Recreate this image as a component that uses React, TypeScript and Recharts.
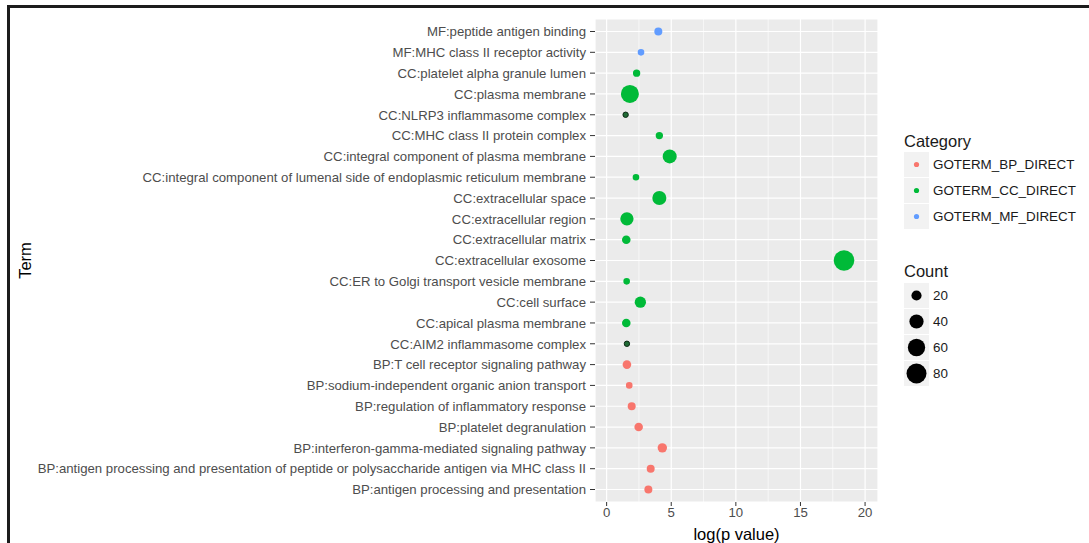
import React from 'react';
import {
  ScatterChart,
  Scatter,
  XAxis,
  YAxis,
  ZAxis,
  CartesianGrid,
  ReferenceLine,
  Label,
  Cell,
} from 'recharts';

// terms, top to bottom as they appear on the y axis
const terms = [
  'MF:peptide antigen binding',
  'MF:MHC class II receptor activity',
  'CC:platelet alpha granule lumen',
  'CC:plasma membrane',
  'CC:NLRP3 inflammasome complex',
  'CC:MHC class II protein complex',
  'CC:integral component of plasma membrane',
  'CC:integral component of lumenal side of endoplasmic reticulum membrane',
  'CC:extracellular space',
  'CC:extracellular region',
  'CC:extracellular matrix',
  'CC:extracellular exosome',
  'CC:ER to Golgi transport vesicle membrane',
  'CC:cell surface',
  'CC:apical plasma membrane',
  'CC:AIM2 inflammasome complex',
  'BP:T cell receptor signaling pathway',
  'BP:sodium-independent organic anion transport',
  'BP:regulation of inflammatory response',
  'BP:platelet degranulation',
  'BP:interferon-gamma-mediated signaling pathway',
  'BP:antigen processing and presentation of peptide or polysaccharide antigen via MHC class II',
  'BP:antigen processing and presentation',
];

const logP = [
  4.0, 2.66, 2.32, 1.8, 1.47, 4.08, 4.88, 2.27, 4.08, 1.57, 1.52, 18.37,
  1.55, 2.61, 1.52, 1.57, 1.57, 1.75, 1.94, 2.48, 4.31, 3.41, 3.23,
];

const counts = [
  12, 8, 10, 65, 5, 10, 39, 8, 39, 35, 14, 85,
  8, 25, 14, 5, 14, 8, 12, 14, 17, 12, 12,
];

const categories = [
  { key: 'BP', name: 'GOTERM_BP_DIRECT', color: '#F8766D' },
  { key: 'CC', name: 'GOTERM_CC_DIRECT', color: '#00BA38' },
  { key: 'MF', name: 'GOTERM_MF_DIRECT', color: '#619CFF' },
];

// overlapping points that show darker in the figure
const darkTerms = ['CC:NLRP3 inflammasome complex', 'CC:AIM2 inflammasome complex'];

const xTicks = [0, 5, 10, 15, 20];
const minorX = [2.5, 7.5, 12.5, 17.5];
const yTicks = terms.map((_, i) => i);
const countBreaks = [20, 40, 60, 80];

const zDomain = [0, 100];
const zRange = [3.6, 391];

const rows = terms.map((term, i) => ({
  term,
  y: terms.length - 1 - i,
  logP: logP[i],
  count: counts[i],
  cat: term.slice(0, 2),
}));

const font = '"Liberation Sans", Arial, sans-serif';
const tickFont = 13.2;

// same linear area mapping as the ZAxis, for the size legend
const countRadius = (c: number) => {
  const area = zRange[0] + ((c - zDomain[0]) / (zDomain[1] - zDomain[0])) * (zRange[1] - zRange[0]);
  return Math.sqrt(area / Math.PI);
};

const TermTick = (props: any) => {
  const { x, y, payload } = props;
  return (
    <text x={x} y={y} dy="0.36em" textAnchor="end" fontSize={tickFont} fill="#4D4D4D" fontFamily={font}>
      {terms[terms.length - 1 - payload.value]}
    </text>
  );
};

const TermLabel = (props: any) => {
  const vb = props.viewBox;
  const cy = vb.y + vb.height / 2;
  return (
    <text
      x={25}
      y={cy}
      transform={`rotate(-90, 25, ${cy})`}
      textAnchor="middle"
      dominantBaseline="central"
      fontSize={16.5}
      fill="#000"
      fontFamily={font}
    >
      Term
    </text>
  );
};

const XTitle = (props: any) => {
  const vb = props.viewBox;
  return (
    <text
      x={vb.x + vb.width / 2}
      y={540}
      textAnchor="middle"
      fontSize={16.5}
      fill="#000"
      fontFamily={font}
    >
      log(p value)
    </text>
  );
};

const box: React.CSSProperties = {
  position: 'absolute',
  left: 0,
  top: 0,
  width: 25,
  height: 25,
  background: '#F2F2F2',
};

const GGLegend = () => (
  <div style={{ position: 'absolute', left: 904, top: 130, width: 185, height: 270, fontFamily: font, color: '#1a1a1a' }}>
    <div style={{ position: 'absolute', left: 0, top: 1, fontSize: 16.5, lineHeight: '20px' }}>Category</div>
    {categories.map((c, i) => (
      <div key={c.key} style={{ position: 'absolute', left: 0, top: 22 + i * 26, width: 185, height: 25 }}>
        <svg style={box} width={25} height={25}>
          <circle cx={12.5} cy={12.5} r={2.6} fill={c.color} />
        </svg>
        <div style={{ position: 'absolute', left: 29, top: 0, lineHeight: '25px', fontSize: 13.4 }}>{c.name}</div>
      </div>
    ))}
    <div style={{ position: 'absolute', left: 0, top: 131, fontSize: 16.5, lineHeight: '20px' }}>Count</div>
    {countBreaks.map((c, i) => (
      <div key={c} style={{ position: 'absolute', left: 0, top: 153 + i * 26, width: 185, height: 25 }}>
        <svg style={box} width={25} height={25}>
          <circle cx={12.5} cy={12.5} r={countRadius(c)} fill="#000" />
        </svg>
        <div style={{ position: 'absolute', left: 29, top: 0, lineHeight: '25px', fontSize: 13.4 }}>{c}</div>
      </div>
    ))}
  </div>
);

const App: React.FC = () => {
  return (
    <div style={{ position: 'absolute', left: 0, top: 0, width: 1089, height: 543, background: '#fff', overflow: 'hidden' }}>
      <div style={{ position: 'absolute', left: 8, top: 5, width: 1081, height: 3, background: '#1c1c1c' }} />
      <div style={{ position: 'absolute', left: 7, top: 5, width: 3, height: 538, background: '#1c1c1c' }} />
      <ScatterChart width={1089} height={543} margin={{ top: 19, right: 211, bottom: 0, left: 0 }}>
        <CartesianGrid fill="#EBEBEB" fillOpacity={1} stroke="#fff" strokeWidth={1.2} />
        {minorX.map(v => (
          <ReferenceLine key={v} x={v} stroke="#fff" strokeWidth={0.6} />
        ))}
        <XAxis
          type="number"
          dataKey="logP"
          domain={[-0.9, 21]}
          ticks={xTicks}
          allowDataOverflow
          axisLine={false}
          tickLine={{ stroke: '#333' }}
          tickSize={4}
          tick={{ fontSize: tickFont, fill: '#4D4D4D', fontFamily: font }}
          height={41}
        >
          <Label content={XTitle} />
        </XAxis>
        <YAxis
          type="number"
          dataKey="y"
          domain={[-0.6, terms.length - 0.4]}
          ticks={yTicks}
          interval={0}
          allowDataOverflow
          axisLine={false}
          tickLine={{ stroke: '#333' }}
          tickSize={5}
          tickMargin={4}
          tick={TermTick}
          width={595}
        >
          <Label content={TermLabel} />
        </YAxis>
        <ZAxis type="number" dataKey="count" domain={zDomain} range={zRange} />
        {categories.map(c => {
          const data = rows.filter(r => r.cat === c.key);
          return (
            <Scatter key={c.key} name={c.name} data={data} fill={c.color} isAnimationActive={false}>
              {data.map(d => (
                <Cell
                  key={d.term}
                  fill={darkTerms.includes(d.term) ? '#1f6b35' : c.color}
                  stroke={darkTerms.includes(d.term) ? '#0d2a14' : 'none'}
                  strokeWidth={1}
                />
              ))}
            </Scatter>
          );
        })}
      </ScatterChart>
      <GGLegend />
    </div>
  );
};

export default App;
